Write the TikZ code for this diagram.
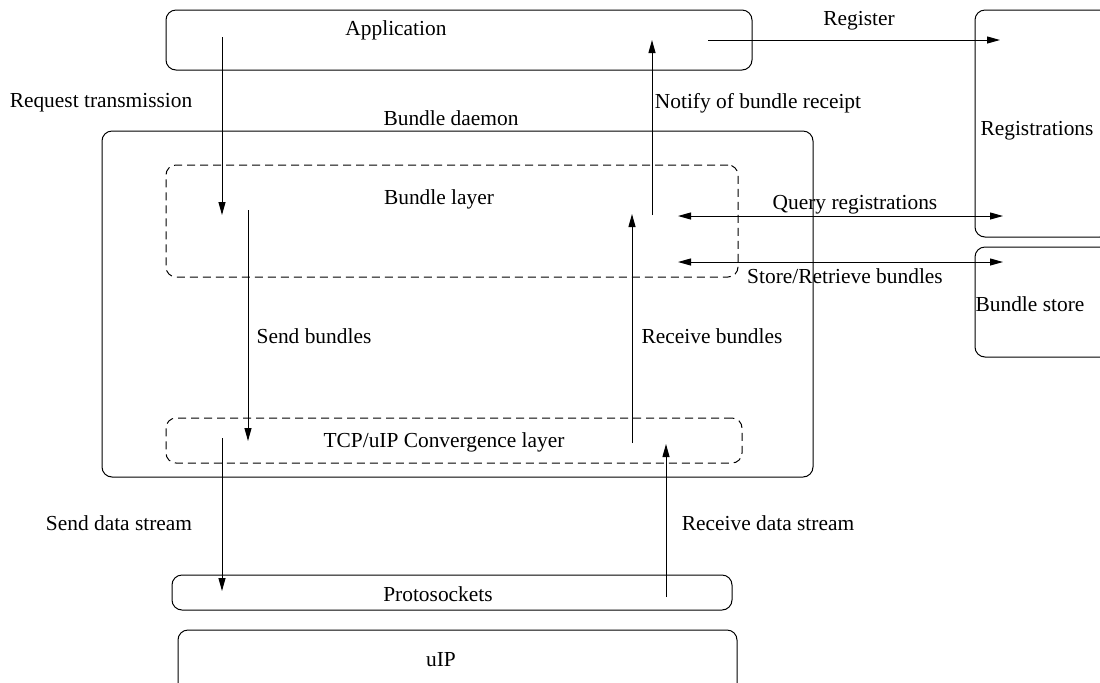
\documentclass[tikz,border=0pt]{standalone}
\usepackage{fontspec}
\setmainfont{Liberation Serif}
\usetikzlibrary{arrows.meta,fit}
\begin{document}
\begin{tikzpicture}[x=0.5pt,y=-0.5pt,
  every node/.style={font=\fontsize{10.7}{13}\selectfont, inner sep=0pt},
  box/.style={draw, line width=0.5pt, rounded corners=5pt, inner sep=0pt},
  layer/.style={draw, line width=0.5pt, rounded corners=5pt, dash pattern=on 4pt off 2.5pt, inner sep=0pt},
  flow/.style={line width=0.5pt, -{Triangle[length=6.5pt,width=3.5pt]}},
  twoway/.style={line width=0.5pt, {Triangle[length=6.5pt,width=3.5pt]}-{Triangle[length=6.5pt,width=3.5pt]}},
  lbl/.style={anchor=center}]
\useasboundingbox (0,0) rectangle (1100,682);

% component corners
\coordinate (app1) at (166,10);   \coordinate (app2) at (752,70);
\coordinate (dm1) at (102,131);   \coordinate (dm2) at (813,477);
\coordinate (bl1) at (166,165);   \coordinate (bl2) at (738,277);
\coordinate (cl1) at (166,418);   \coordinate (cl2) at (742,463);
\coordinate (ps1) at (172,575);   \coordinate (ps2) at (732,610);
\coordinate (ui1) at (178,630);   \coordinate (ui2) at (737,700);
\coordinate (rg1c) at (975,10);   \coordinate (rg2c) at (1110,237);
\coordinate (st1) at (975,247);   \coordinate (st2) at (1110,357);

% components
\node[box, fit=(app1)(app2)] (app) {};
\node[lbl] (appt) at (396,30) {Application};
\node[box, fit=(dm1)(dm2)] (daemon) {};
\node[lbl] (daemont) at (451,118) {Bundle daemon};
\node[layer, fit=(bl1)(bl2)] (bl) {};
\node[lbl] (blt) at (439,199) {Bundle layer};
\node[layer, fit=(cl1)(cl2)] (cl) {};
\node[lbl] (clt) at (444,442) {TCP/uIP Convergence layer};
\node[box, fit=(ps1)(ps2)] (ps) {};
\node[lbl] (pst) at (438,594) {Protosockets};
\node[box, fit=(ui1)(ui2)] (uip) {};
\node[lbl] (uipt) at (441,660) {uIP};
\node[box, fit=(rg1c)(rg2c)] (reg) {};
\node[lbl] (regt) at (1037,131) {Registrations};
\node[box, fit=(st1)(st2)] (store) {};
\node[lbl] (storet) at (1030,304) {Bundle store};

% arrow end points
\coordinate (rq1) at (222,37);  \coordinate (rq2) at (222,215);
\coordinate (sb1) at (248,210); \coordinate (sb2) at (248,441);
\coordinate (sd1) at (222,438); \coordinate (sd2) at (222,591);
\coordinate (rd1) at (666,597); \coordinate (rd2) at (666,444);
\coordinate (rb1) at (632,443); \coordinate (rb2) at (632,214);
\coordinate (nb1) at (652,215); \coordinate (nb2) at (652,40);
\coordinate (rg1) at (708,40);  \coordinate (rg2) at (1000,40);
\coordinate (qr1) at (678,216); \coordinate (qr2) at (1003,216);
\coordinate (sr1) at (678,262); \coordinate (sr2) at (1003,262);

% connectors
\draw[flow] (rq1) -- (rq2);
\draw[flow] (sb1) -- (sb2);
\draw[flow] (sd1) -- (sd2);
\draw[flow] (rd1) -- (rd2);
\draw[flow] (rb1) -- (rb2);
\draw[flow] (nb1) -- (nb2);
\draw[flow] (rg1) -- (rg2);
\draw[twoway] (qr1) -- (qr2);
\draw[twoway] (sr1) -- (sr2);

% connector labels
\node[lbl] (l1) at (101,103) {Request transmission};
\node[lbl] (l2) at (314,336) {Send bundles};
\node[lbl] (l3) at (119,523) {Send data stream};
\node[lbl] (l4) at (768,523) {Receive data stream};
\node[lbl] (l5) at (712,336) {Receive bundles};
\node[lbl] (l6) at (758,103) {Notify of bundle receipt};
\node[lbl] (l7) at (859,21) {Register};
\node[lbl] (l8) at (855,205) {Query registrations};
\node[lbl] (l9) at (845,276) {Store/Retrieve bundles};
\end{tikzpicture}
\end{document}
